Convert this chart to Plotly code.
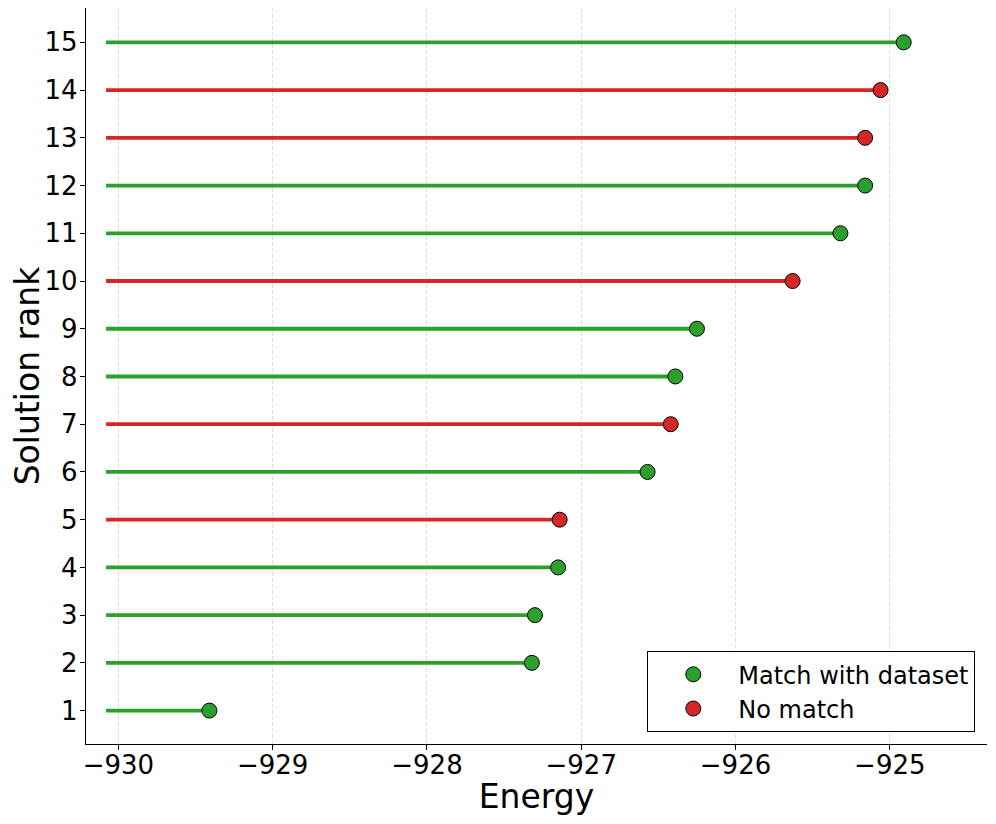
import plotly.graph_objects as go

ranks = list(range(1, 16))
energies = [-929.41, -927.32, -927.30, -927.15, -927.14, -926.57, -926.42, -926.39,
            -926.25, -925.63, -925.32, -925.16, -925.16, -925.06, -924.91]
matched = [True, True, True, True, False, True, False, True,
           True, False, True, True, False, False, True]
baseline = -930.08
x_ticks = [-930, -929, -928, -927, -926, -925]
x_tick_labels = ["\u2212930", "\u2212929", "\u2212928", "\u2212927", "\u2212926", "\u2212925"]

GREEN = "#2ca02c"
RED = "#d62728"

fig = go.Figure()

for flag, color in [(True, GREEN), (False, RED)]:
    xs, ys = [], []
    for r, e, m in zip(ranks, energies, matched):
        if m == flag:
            xs += [baseline, e, None]
            ys += [r, r, None]
    fig.add_trace(go.Scatter(x=xs, y=ys, mode="lines",
                             line=dict(color=color, width=3.8),
                             showlegend=False, hoverinfo="skip"))

for flag, color, name in [(True, GREEN, "Match with dataset"), (False, RED, "No match")]:
    xs = [e for e, m in zip(energies, matched) if m == flag]
    ys = [r for r, m in zip(ranks, matched) if m == flag]
    fig.add_trace(go.Scatter(x=xs, y=ys, mode="markers", name=name,
                             marker=dict(color=color, size=15,
                                         line=dict(color="black", width=1))))

# page body has an 8px margin; figure sized so it fits the 996x824 window
fig.update_layout(
    width=980, height=808,
    margin=dict(l=78, r=1, t=0, b=72),
    plot_bgcolor="white", paper_bgcolor="white",
    font=dict(family="DejaVu Sans", color="black"),
    legend=dict(x=0.987, y=0.016, xanchor="right", yanchor="bottom",
                bordercolor="black", borderwidth=1, bgcolor="white",
                font=dict(size=24), itemwidth=80, tracegroupgap=0),
    showlegend=True,
)
fig.update_xaxes(range=[-930.21, -924.37], tickvals=x_ticks, ticktext=x_tick_labels,
                 automargin=False, ticklabelstandoff=-7,
                 tickfont=dict(size=26), showline=True, linecolor="black", linewidth=1.3,
                 ticks="outside", ticklen=5, tickwidth=1.3, tickcolor="black",
                 showgrid=True, gridcolor="#dedede", griddash="4px,2px", gridwidth=1,
                 zeroline=False,
                 title=dict(text="Energy", font=dict(size=33), standoff=3))
fig.update_yaxes(range=[0.3, 15.72], tickvals=ranks, ticktext=[str(r) for r in ranks],
                 automargin=False, ticklabelstandoff=-3,
                 tickfont=dict(size=26), showline=True, linecolor="black", linewidth=1.3,
                 ticks="outside", ticklen=5, tickwidth=1.3, tickcolor="black",
                 showgrid=False, zeroline=False,
                 title=dict(text="Solution rank", font=dict(size=33), standoff=0))

fig.write_html("out.html")
